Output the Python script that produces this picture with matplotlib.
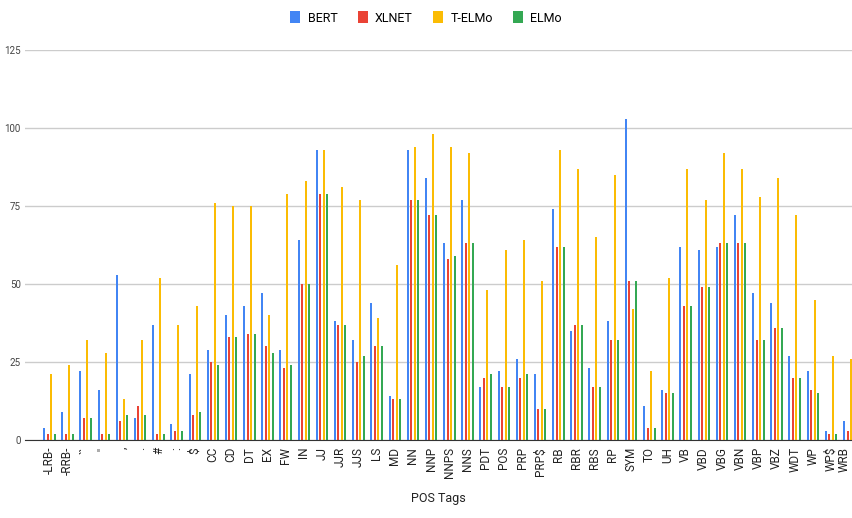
import numpy as np
import matplotlib
matplotlib.use("Agg")
import matplotlib.pyplot as plt
import matplotlib.transforms as mtransforms

tags = ["-LRB-", "-RRB-", "``", "''", ",", ".", "#", ":", "$", "CC", "CD", "DT", "EX", "FW",
        "IN", "JJ", "JJR", "JJS", "LS", "MD", "NN", "NNP", "NNPS", "NNS", "PDT", "POS", "PRP",
        "PRP$", "RB", "RBR", "RBS", "RP", "SYM", "TO", "UH", "VB", "VBD", "VBG", "VBN", "VBP",
        "VBZ", "WDT", "WP", "WP$", "WRB"]

bert = [4, 9, 22, 16, 53, 7, 37, 5, 21, 29, 40, 43, 47, 29,
        64, 93, 38, 32, 44, 14, 93, 84, 63, 77, 17, 22, 26,
        21, 74, 35, 23, 38, 103, 11, 16, 62, 61, 62, 72, 47,
        44, 27, 22, 3, 6]
xlnet = [2, 2, 7, 2, 6, 11, 2, 3, 8, 25, 33, 34, 30, 23,
         50, 79, 37, 25, 30, 13, 77, 72, 58, 63, 20, 17, 20,
         10, 62, 37, 17, 32, 51, 4, 15, 43, 49, 63, 63, 32,
         36, 20, 16, 2, 3]
telmo = [21, 24, 32, 28, 13, 32, 52, 37, 43, 76, 75, 75, 40, 79,
         83, 93, 81, 77, 39, 56, 94, 98, 94, 92, 48, 61, 64,
         51, 93, 87, 65, 85, 42, 22, 52, 87, 77, 92, 87, 78,
         84, 72, 45, 27, 26]
elmo = [2, 2, 7, 2, 8, 8, 2, 3, 9, 24, 33, 34, 28, 24,
        50, 79, 37, 27, 30, 13, 77, 72, 59, 63, 21, 17, 21,
        10, 62, 37, 17, 32, 51, 4, 15, 43, 49, 63, 63, 32,
        36, 20, 15, 2, 3]

series = [("BERT", bert, "#4285F4"),
          ("XLNET", xlnet, "#EA4335"),
          ("T-ELMo", telmo, "#FBBC04"),
          ("ELMo", elmo, "#34A853")]

plt.rcParams['font.family'] = ['Roboto', 'DejaVu Sans']

fig = plt.figure(figsize=(8.52, 5.18), dpi=100)
ax = fig.add_axes([0.0293, 0.1506, 0.9707, 0.7529])

x = np.arange(len(tags))
step = 0.1925
for k, (name, vals, col) in enumerate(series):
    ax.bar(x + (k - 1.5) * step, vals, width=0.11, color=col, label=name, zorder=3)

ax.set_xlim(-1.34, 44.15)
ax.set_ylim(0, 125)
ax.set_yticks([0, 25, 50, 75, 100, 125])
ax.grid(axis='y', color='#cccccc', linewidth=1, zorder=0)
for s in ['top', 'right', 'left']:
    ax.spines[s].set_visible(False)
ax.spines['bottom'].set_color('#333333')
ax.spines['bottom'].set_zorder(4)
ax.set_xticks(x)
ax.set_xticklabels(tags, rotation=90, fontsize=8.5, color='#222222')
ax.tick_params(axis='x', length=0, pad=5)
ax.tick_params(axis='y', length=0, pad=3, labelsize=7, labelcolor='#444444')
ax.set_xlabel('POS Tags', fontsize=9, color='#222222', labelpad=10)

# nudge the last label so it stays inside the picture
last = ax.get_xticklabels()[-1]
last.set_transform(last.get_transform() + mtransforms.ScaledTranslation(-4 / 72, 0, fig.dpi_scale_trans))

fig.legend(loc='upper center', bbox_to_anchor=(0.5, 1.0), ncol=4, frameon=False,
           fontsize=9, handlelength=0.8, handleheight=1.1, handletextpad=0.6,
           columnspacing=1.6)

fig.savefig('out.png', dpi=100)
